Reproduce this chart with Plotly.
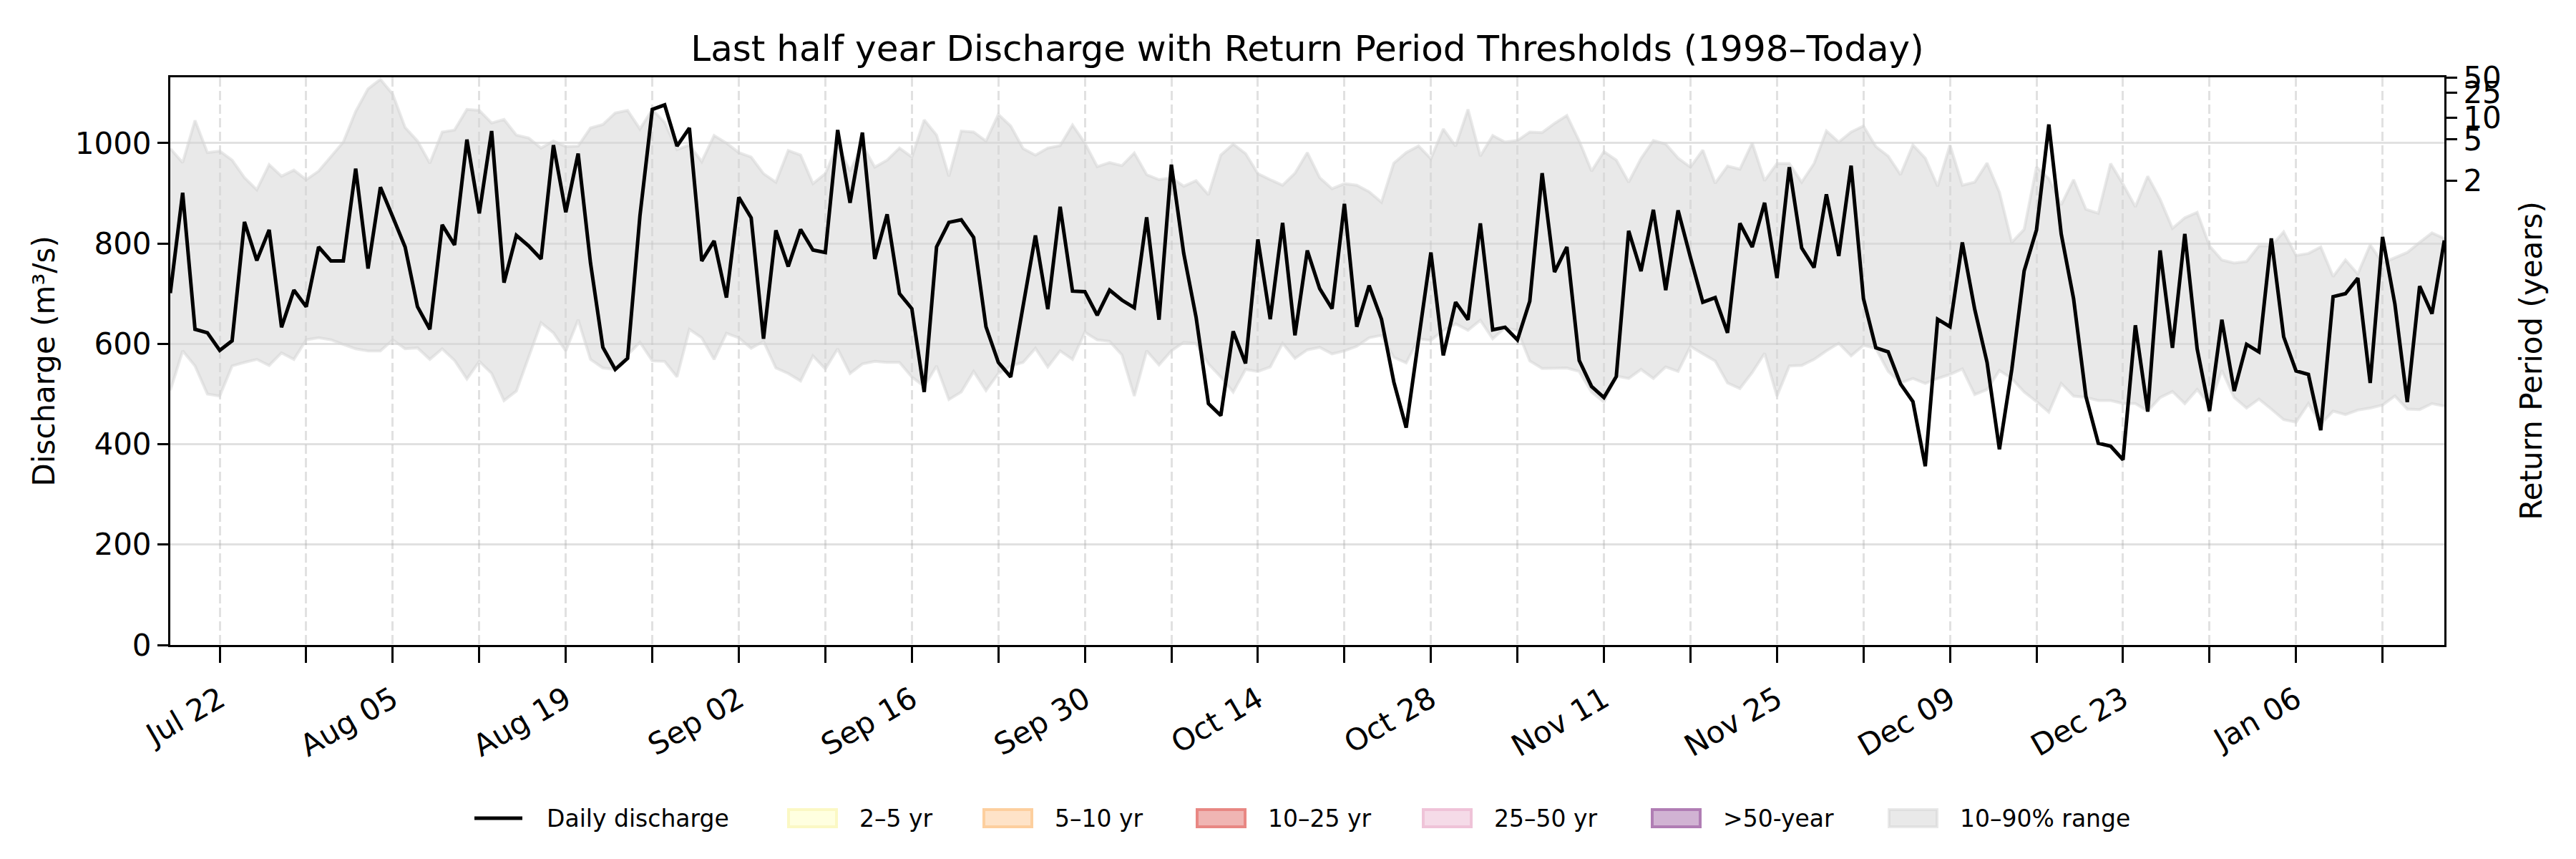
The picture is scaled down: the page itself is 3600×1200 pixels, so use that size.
import pandas as pd
import plotly.graph_objects as go

# daily dates shown (last half year)
dates = pd.date_range("2024-07-18", "2025-01-18", freq="D")

# daily discharge (m3/s)
discharge = [
    701, 901, 629, 622, 587, 606, 843, 766, 827, 633, 707, 674, 793, 765,
    765, 949, 750, 912, 853, 793, 674, 629, 837, 797, 1007, 860, 1024, 722, 816, 795,
    769, 996, 862, 979, 761, 593, 549, 571, 855, 1067, 1076, 994, 1030, 765, 805,
    692, 892, 851, 610, 826, 754, 828, 787, 782, 1026, 881, 1021, 769, 858, 700,
    670, 504, 793, 842, 847, 812, 634, 563, 534, 675, 816, 669, 873, 705, 704,
    657, 707, 687, 672, 852, 648, 957, 780, 653, 481, 457, 625, 561, 808, 649,
    841, 617, 786, 710, 670, 879, 634, 716, 649, 524, 433, 608, 782, 577, 683, 648,
    840, 628, 633, 608, 685, 940, 743, 793, 567, 515, 493, 535, 825, 745, 867,
    707, 866, 772, 683, 692, 622, 840, 793, 881, 731, 952, 791, 752, 898, 775,
    955, 690, 592, 584, 520, 485, 356, 649, 634, 802, 669, 563, 390, 549, 745,
    827, 1037, 819, 690, 495, 402, 396, 369, 637, 465, 786, 592, 819, 590, 466, 648,
    506, 599, 584, 810, 614, 546, 539, 428, 694, 700, 731, 522, 813, 679, 484,
    715, 660, 806,
]

# 90th percentile of the same calendar day (1998-today)
q90 = [
    989, 961, 1045, 981, 984, 966, 931, 907, 957, 934, 946, 927, 944, 972,
    1002, 1063, 1108, 1127, 1097, 1031, 1004, 960, 1022, 1026, 1067, 1065, 1040, 1047, 1016, 1010,
    990, 1004, 993, 994, 1030, 1037, 1060, 1065, 1028, 1067, 1041, 987, 996, 963, 1015,
    1000, 981, 972, 939, 922, 985, 976, 919, 939, 996, 944, 996, 952, 966, 990,
    972, 1046, 1016, 934, 1024, 1022, 1004, 1057, 1034, 989, 976, 990, 995, 1036, 1000,
    953, 961, 955, 980, 937, 927, 931, 914, 925, 897, 976, 998, 979, 939, 927,
    916, 940, 981, 931, 909, 919, 916, 903, 882, 960, 981, 994, 969, 1028, 994, 1067,
    974, 1015, 1002, 1005, 1022, 1021, 1039, 1055, 1004, 944, 983, 966, 922, 969, 1005,
    998, 970, 952, 986, 920, 954, 948, 1000, 925, 959, 959, 922, 959, 1024, 1002,
    1022, 1034, 993, 974, 937, 996, 970, 914, 996, 916, 922, 960, 902, 802, 828,
    952, 929, 877, 927, 868, 860, 959, 918, 873, 934, 888, 830, 851, 862, 795, 767,
    761, 764, 795, 795, 823, 776, 780, 793, 734, 767, 739, 797, 761, 772, 782,
    802, 821, 810,
]

# 10th percentile
q10 = [
    507, 586, 556, 500, 496, 556, 563, 569, 557, 582, 569, 608, 612, 608,
    599, 590, 586, 586, 608, 590, 592, 569, 590, 567, 530, 565, 541, 487, 506, 575,
    642, 622, 586, 648, 569, 552, 549, 578, 603, 566, 565, 534, 629, 612, 569,
    621, 612, 591, 605, 552, 541, 526, 576, 550, 590, 541, 560, 565, 563, 563,
    534, 515, 556, 489, 504, 545, 507, 541, 556, 563, 591, 554, 586, 569, 623,
    608, 605, 578, 496, 586, 558, 586, 603, 601, 560, 534, 504, 549, 545, 554,
    601, 571, 588, 593, 580, 586, 595, 612, 617, 573, 562, 610, 607, 627, 640, 627,
    647, 610, 632, 627, 566, 551, 552, 552, 545, 504, 484, 536, 531, 549, 531,
    554, 545, 595, 580, 566, 522, 511, 543, 581, 496, 556, 557, 569, 586, 601,
    576, 597, 591, 545, 522, 531, 521, 531, 539, 550, 499, 509, 547, 531, 504,
    485, 464, 521, 496, 493, 487, 487, 481, 481, 466, 493, 505, 481, 509, 478, 547,
    493, 472, 490, 470, 449, 444, 481, 440, 466, 459, 468, 472, 478, 496, 470,
    469, 481, 476,
]

# return period thresholds (m3/s) for the right axis
rp_labels = ["2", "5", "10", "25", "50"]
rp_levels = [925, 1007, 1051, 1100, 1131]

# legend entries (line first, then patches)
legend_names = ["Daily discharge", "2–5 yr", "5–10 yr", "10–25 yr", "25–50 yr", ">50-year", "10–90% range"]
band_fill = [None, "#ffffe0", "#fee3c8", "#f0b5b3", "#f5dbe8", "#d1b3d3", "rgba(211,211,211,0.5)"]
band_edge = [None, "#fbf8c4", "#fdcf9e", "#e88783", "#efc3d8", "#b07db4", "rgba(211,211,211,0.5)"]

FONT = "DejaVu Sans"
band_col = "rgba(211,211,211,0.5)"
grid_col = "rgba(170,170,170,0.35)"

# plot box in page pixels (the page adds an 8px body margin)
W, H = 3600, 1200
PX_L, PX_R, PX_T, PX_B = 238, 3416, 108, 901


def px_x(px):
    return (px - PX_L) / (PX_R - PX_L)


def px_y(py):
    return (PX_B - py) / (PX_B - PX_T)


fig = go.Figure()

# 10-90% range
fig.add_trace(go.Scatter(x=dates, y=q10, mode="lines", line=dict(color=band_col, width=4),
                         showlegend=False, hoverinfo="skip"))
fig.add_trace(go.Scatter(x=dates, y=q90, mode="lines", line=dict(color=band_col, width=4),
                         fill="tonexty", fillcolor=band_col, showlegend=False))

fig.add_trace(go.Scatter(x=dates, y=discharge, mode="lines", line=dict(color="black", width=5),
                         name="Daily discharge", showlegend=False))

# invisible marks so the return period axis is drawn
fig.add_trace(go.Scatter(x=[dates[-1]] * len(rp_levels), y=rp_levels, yaxis="y2", mode="markers",
                         marker=dict(opacity=0), showlegend=False, hoverinfo="skip"))

fig.update_layout(
    width=W, height=H,
    margin=dict(l=PX_L - 8, r=W - PX_R + 8, t=PX_T - 8, b=H - PX_B + 8),
    plot_bgcolor="white", paper_bgcolor="white",
    font=dict(family=FONT, size=42, color="black"),
    title=dict(text="Last half year Discharge with Return Period Thresholds (1998–Today)",
               font=dict(size=50), x=0.5, xref="paper", xanchor="center",
               y=1 - 59 / H, yref="container", yanchor="middle"),
    xaxis=dict(
        type="date", range=[dates[0], dates[-1]],
        tick0="2024-07-22", dtick=14 * 86400000, tickformat="%b %d", tickangle=-30,
        ticks="outside", ticklen=22, tickwidth=3, tickcolor="black", ticklabelstandoff=10,
        showline=True, linecolor="black", linewidth=3, mirror=True,
        showgrid=True, gridcolor=grid_col, gridwidth=3, griddash="13px,6px",
        minor=dict(tick0="2024-07-22", dtick=7 * 86400000, ticks="outside", ticklen=22,
                   tickwidth=3, tickcolor="black", showgrid=True, gridcolor=grid_col,
                   gridwidth=3, griddash="13px,6px"),
        zeroline=False,
    ),
    yaxis=dict(
        range=[0, 1131], dtick=200, ticks="outside", ticklen=15, tickwidth=3,
        tickcolor="black", showline=True, linecolor="black", linewidth=3, mirror=True,
        showgrid=True, gridcolor=grid_col, gridwidth=3, zeroline=False,
    ),
    yaxis2=dict(
        overlaying="y", side="right", range=[0, 1131],
        tickvals=rp_levels, ticktext=rp_labels, ticks="outside", ticklen=15,
        tickwidth=3, tickcolor="black", showline=True, linecolor="black",
        linewidth=3, showgrid=False, zeroline=False,
    ),
    showlegend=False,
)

# axis titles
fig.add_annotation(text="Discharge (m³/s)", textangle=-90, x=px_x(61), y=0.5,
                   xanchor="center", yanchor="middle",
                   xref="paper", yref="paper", showarrow=False, font=dict(size=42))
fig.add_annotation(text="Return Period (years)", textangle=-90, x=px_x(3537), y=0.5,
                   xanchor="center", yanchor="middle",
                   xref="paper", yref="paper", showarrow=False, font=dict(size=42))

# legend below the plot, drawn like a matplotlib legend
handle_x = [663, 1100, 1373, 1671, 1987, 2307, 2638]
leg_y = 1143
for i, name in enumerate(legend_names):
    x0 = handle_x[i]
    if band_fill[i] is None:
        fig.add_shape(type="line", xref="paper", yref="paper",
                      x0=px_x(x0), x1=px_x(x0 + 67), y0=px_y(leg_y), y1=px_y(leg_y),
                      line=dict(color="black", width=5))
    else:
        fig.add_shape(type="rect", xref="paper", yref="paper",
                      x0=px_x(x0 + 2), x1=px_x(x0 + 69), y0=px_y(leg_y - 12), y1=px_y(leg_y + 12),
                      fillcolor=band_fill[i], line=dict(color=band_edge[i], width=4))
    fig.add_annotation(text=name, x=px_x(x0 + 99), y=px_y(leg_y), xref="paper", yref="paper",
                       xanchor="left", yanchor="middle", showarrow=False, font=dict(size=33))

fig.write_html("out.html")
